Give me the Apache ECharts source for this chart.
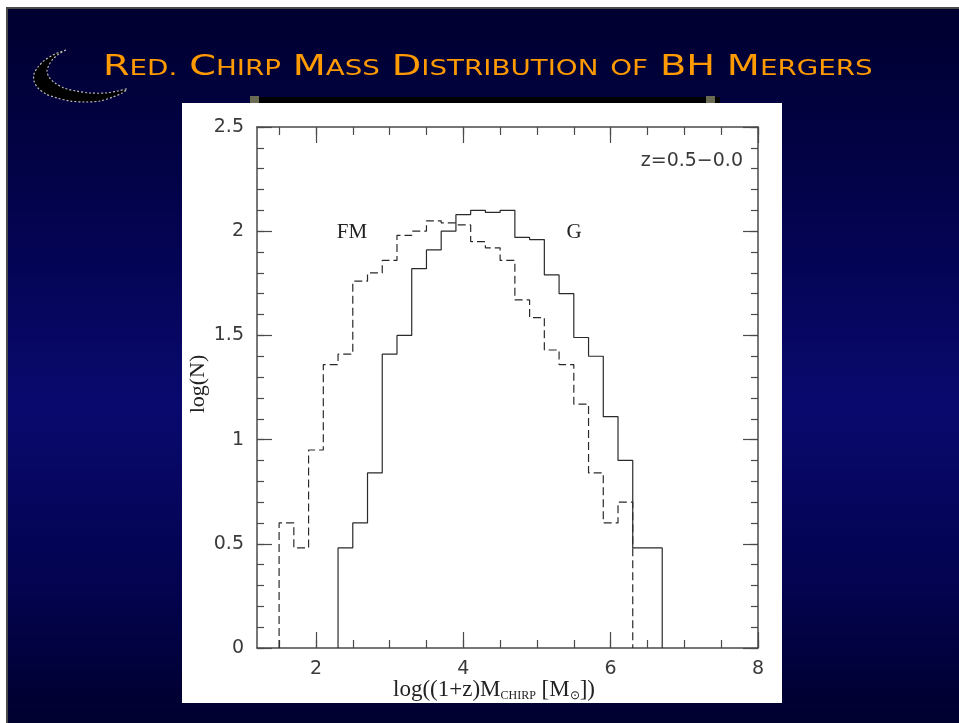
<!DOCTYPE html>
<html>
<head>
<meta charset="utf-8">
<script src="https://cdn.jsdelivr.net/npm/echarts@6/dist/echarts.min.js"></script>
<style>
  html, body { margin: 0; padding: 0; background: #ffffff; }
  #chart { width: 959px; height: 723px; }
</style>
</head>
<body>
<div id="chart"></div>
<script>
// Histogram bins (width 0.2 in log mass), values are log(N)
const binWidth = 0.2;

// FM model (dashed)
const fmStart = 1.5;
const fmValues = [0.60, 0.48, 0.95, 1.36, 1.41, 1.76, 1.80, 1.86, 1.98, 2.00, 2.05, 2.04,
                  2.03, 1.95, 1.92, 1.86, 1.67, 1.585, 1.43, 1.36, 1.17, 0.84, 0.60, 0.70];

// G model (solid)
const gStart = 2.3;
const gValues = [0.48, 0.60, 0.84, 1.41, 1.50, 1.82, 1.91, 2.00, 2.08, 2.10, 2.09,
                 2.10, 1.97, 1.96, 1.79, 1.70, 1.49, 1.40, 1.11, 0.90, 0.48, 0.48];

// Axis ticks and labels
const xMinorTicks = [1.5, 2, 2.5, 3, 3.5, 4, 4.5, 5, 5.5, 6, 6.5, 7, 7.5, 8];
const xMajorTicks = [2, 4, 6, 8];
const xLabels = [2, 4, 6, 8];
const xRange = [1.2, 8];
const yRange = [0, 2.5];

// Turn bin values into a closed step outline
function stepPoints(start, values) {
  const pts = [[start, 0]];
  values.forEach((v, i) => pts.push([+(start + i * binWidth).toFixed(2), v]));
  pts.push([+(start + values.length * binWidth).toFixed(2), 0]);
  return pts;
}

const chart = echarts.init(document.getElementById('chart'), null, { renderer: 'canvas' });

const frameColor = '#4a4a4a';
const numFont = { fontFamily: 'DejaVu Sans', fontSize: 19, color: '#3a3a3a' };

function xAx(position, ticks, len, withLabels, showLine) {
  return {
    type: 'value', position: position, min: xRange[0], max: xRange[1],
    axisLine: { show: showLine, onZero: false, lineStyle: { color: frameColor, width: 1.5 } },
    axisTick: { show: true, inside: true, length: len, customValues: ticks,
                lineStyle: { color: frameColor, width: 1.2 } },
    axisLabel: withLabels
      ? Object.assign({ show: true, customValues: xLabels, margin: 12 }, numFont)
      : { show: false },
    splitLine: { show: false }
  };
}
function yAx(position, interval, len, withLabels, showLine) {
  return {
    type: 'value', position: position, min: yRange[0], max: yRange[1], interval: interval,
    axisLine: { show: showLine, onZero: false, lineStyle: { color: frameColor, width: 1.5 } },
    axisTick: { show: true, inside: true, length: len,
                lineStyle: { color: frameColor, width: 1.2 } },
    axisLabel: withLabels ? Object.assign({ show: true, margin: 13 }, numFont) : { show: false },
    splitLine: { show: false }
  };
}

const titleColor = '#ff9a00';
const titleRich = {
  b: { fontFamily: 'DejaVu Sans', fontSize: 29, fill: titleColor, lineHeight: 29, verticalAlign: 'bottom' },
  s: { fontFamily: 'DejaVu Sans', fontSize: 21, fill: titleColor, lineHeight: 21, verticalAlign: 'bottom', padding: [0, 0, 2, 0] },
  sp: { fontFamily: 'DejaVu Sans', fontSize: 21, fill: titleColor, lineHeight: 21, width: 9, verticalAlign: 'bottom' }
};

// crescent logo outline: outer rim then inner rim back to the tip
const crescentPoints = [
  [66, 50], [55, 54], [45, 60], [38, 67], [34, 74], [34, 81], [38, 88], [46, 94], [57, 98],
  [70, 101], [85, 102], [100, 101], [113, 97], [122, 93], [127, 89],
  [118, 91], [105, 93], [90, 93], [76, 91], [64, 88], [55, 83], [49, 77], [47, 71],
  [49, 65], [53, 59], [59, 54], [66, 50]
];

const option = {
  backgroundColor: 'transparent',
  animation: false,
  grid: { left: 257, top: 127, width: 501, height: 521, containLabel: false },
  xAxis: [
    xAx('bottom', xMinorTicks, 8, true, true),
    xAx('bottom', xMajorTicks, 16, false, false),
    xAx('top', xMinorTicks, 8, false, true),
    xAx('top', xMajorTicks, 16, false, false)
  ],
  yAxis: [
    yAx('left', 0.5, 15, true, true),
    yAx('left', 0.1, 7, false, false),
    yAx('right', 0.5, 15, false, true),
    yAx('right', 0.1, 7, false, false)
  ],
  graphic: [
    // slide background
    { type: 'rect', z: -30, shape: { x: 7, y: 8, width: 960, height: 720 },
      style: {
        fill: new echarts.graphic.LinearGradient(0, 0, 0, 1, [
          { offset: 0, color: '#000030' },
          { offset: 0.3, color: '#03034f' },
          { offset: 0.55, color: '#09096e' },
          { offset: 0.8, color: '#030350' },
          { offset: 1, color: '#00002c' }
        ]),
        stroke: '#4a4a4a', lineWidth: 2
      } },
    // crescent logo
    { type: 'polygon', z: -20, shape: { points: crescentPoints, smooth: 0.3 },
      style: { fill: '#000000', stroke: '#b8b8b8', lineWidth: 1.2, lineDash: [2, 2] } },
    // bar above the plot panel
    { type: 'rect', z: -20, shape: { x: 250, y: 97, width: 470, height: 6 }, style: { fill: '#000000' } },
    { type: 'rect', z: -19, shape: { x: 250, y: 96, width: 9, height: 8 }, style: { fill: '#6b6b55' } },
    { type: 'rect', z: -19, shape: { x: 706, y: 96, width: 9, height: 8 }, style: { fill: '#6b6b55' } },
    // white plot panel
    { type: 'rect', z: -10, shape: { x: 182, y: 103, width: 600, height: 600 }, style: { fill: '#ffffff' } },
    // slide title
    { type: 'text', z: 10, x: 103, y: 82, scaleX: 1.32, originX: 0,
      style: {
        text: '{b|R}{s|ED.}{sp| }{b|C}{s|HIRP}{sp| }{b|M}{s|ASS}{sp| }{b|D}{s|ISTRIBUTION}{sp| }{s|OF}{sp| }{b|BH}{sp| }{b|M}{s|ERGERS}',
        rich: titleRich, verticalAlign: 'bottom', align: 'left', fill: titleColor
      } },
    // axis titles
    { type: 'text', z: 10, x: 494, y: 690,
      style: {
        text: 'log((1+z)M{s|CHIRP} [M{s|⊙}])',
        fontFamily: 'Liberation Serif', fontSize: 23, lineHeight: 24, fill: '#222',
        align: 'center', verticalAlign: 'middle',
        rich: { s: { fontFamily: 'Liberation Serif', fontSize: 12, lineHeight: 12, verticalAlign: 'bottom', fill: '#222' } }
      } },
    { type: 'text', z: 10, x: 198, y: 384, rotation: Math.PI / 2,
      style: { text: 'log(N)', fontFamily: 'Liberation Serif', fontSize: 22, fill: '#222',
               align: 'center', verticalAlign: 'middle' } },
    // annotations
    { type: 'text', z: 10, x: 743, y: 161,
      style: { text: 'z=0.5\u22120.0', fontFamily: 'DejaVu Sans', fontSize: 19, fill: '#3a3a3a',
               align: 'right', verticalAlign: 'middle' } },
    { type: 'text', z: 10, x: 352, y: 232,
      style: { text: 'FM', fontFamily: 'Liberation Serif', fontSize: 21, fill: '#222',
               align: 'center', verticalAlign: 'middle' } },
    { type: 'text', z: 10, x: 574, y: 232,
      style: { text: 'G', fontFamily: 'Liberation Serif', fontSize: 21, fill: '#222',
               align: 'center', verticalAlign: 'middle' } }
  ],
  series: [
    { name: 'FM', type: 'line', step: 'end', xAxisIndex: 0, yAxisIndex: 0,
      data: stepPoints(fmStart, fmValues), symbol: 'none', silent: true,
      lineStyle: { color: '#2a2a2a', width: 1.2, type: [8, 4] } },
    { name: 'G', type: 'line', step: 'end', xAxisIndex: 0, yAxisIndex: 0,
      data: stepPoints(gStart, gValues), symbol: 'none', silent: true,
      lineStyle: { color: '#2a2a2a', width: 1.2, type: 'solid' } }
  ]
};

chart.setOption(option);
</script>
</body>
</html>
